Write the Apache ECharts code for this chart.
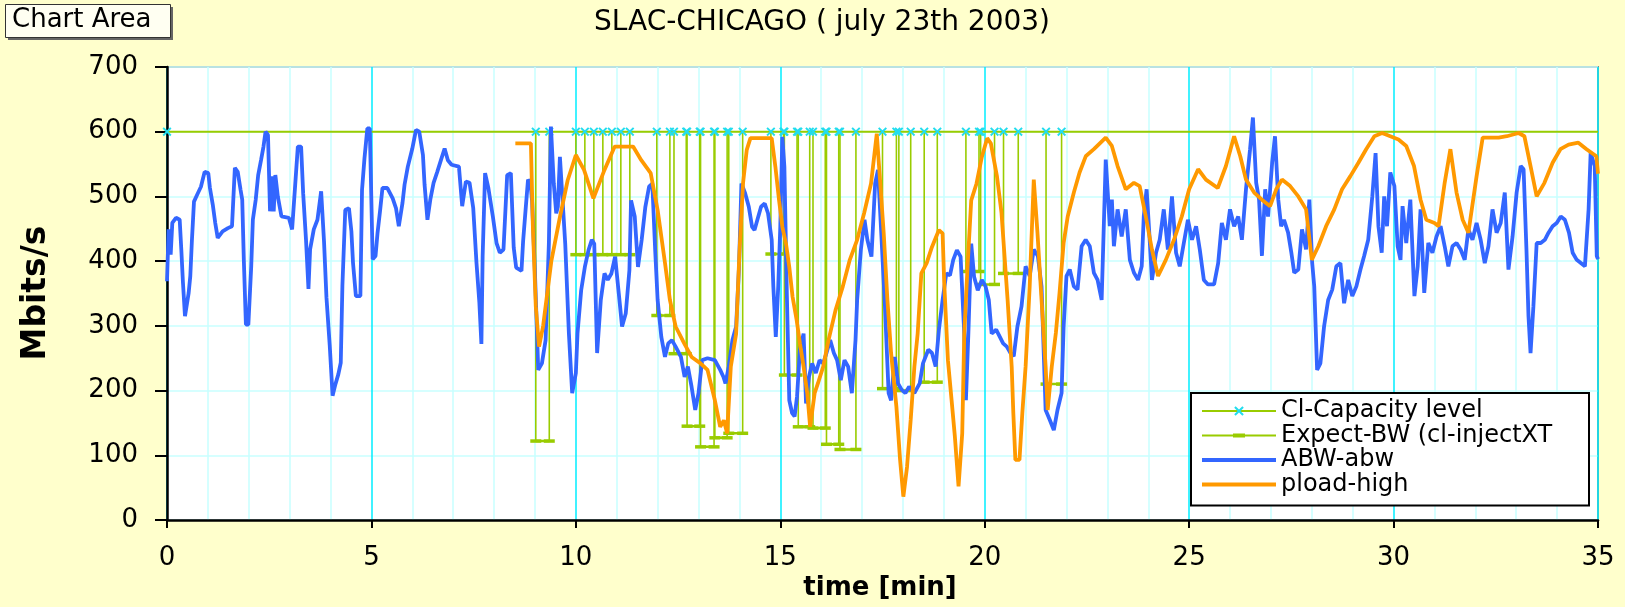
<!DOCTYPE html>
<html><head><meta charset="utf-8">
<script src="https://cdn.jsdelivr.net/npm/echarts@6/dist/echarts.min.js"></script>
<style>html,body{margin:0;padding:0;background:#FFFFCC;}#c{width:1625px;height:607px;}</style>
</head><body><div id="c"></div>
<script>
const chartTitle = 'SLAC-CHICAGO ( july 23th 2003)';
const xName = 'time [min]';
const yName = 'Mbits/s';
const seriesNames = ['Cl-Capacity level', 'Expect-BW (cl-injectXT', 'ABW-abw', 'pload-high'];
const xMin = 0, xMax = 35, xStep = 5;
const yMin = 0, yMax = 700, yStep = 100;
const capacityLevel = 600;

// ABW-abw samples [time(min), Mbits/s]
const abwSamples = [[0,369],[0.04,449],[0.09,410],[0.13,459],[0.22,467],[0.31,464],[0.35,418],[0.39,367],[0.44,315],[0.53,351],[0.57,377],[0.61,433],[0.66,492],[0.74,503],[0.83,515],[0.92,538],[1.01,536],[1.05,513],[1.12,487],[1.18,459],[1.24,436],[1.36,446],[1.49,451],[1.59,454],[1.66,544],[1.73,538],[1.80,510],[1.84,495],[1.88,400],[1.93,302],[1.99,302],[2.06,392],[2.10,464],[2.17,495],[2.23,533],[2.30,556],[2.36,577],[2.41,600],[2.47,595],[2.52,477],[2.57,531],[2.61,477],[2.65,533],[2.71,500],[2.80,469],[2.98,467],[3.06,449],[3.13,513],[3.20,577],[3.28,577],[3.33,505],[3.40,433],[3.46,357],[3.50,418],[3.59,449],[3.68,464],[3.77,508],[3.84,431],[3.90,344],[3.98,270],[4.05,192],[4.12,210],[4.19,225],[4.25,243],[4.29,362],[4.36,479],[4.45,482],[4.51,446],[4.55,397],[4.62,346],[4.73,346],[4.77,510],[4.83,559],[4.90,605],[4.96,605],[5.03,403],[5.10,408],[5.15,444],[5.21,477],[5.27,513],[5.39,513],[5.52,497],[5.60,482],[5.67,454],[5.76,490],[5.81,518],[5.89,546],[6.00,574],[6.09,603],[6.17,600],[6.26,564],[6.30,518],[6.37,464],[6.44,495],[6.52,521],[6.61,538],[6.70,556],[6.79,574],[6.87,556],[6.96,549],[7.14,546],[7.22,485],[7.31,523],[7.40,521],[7.49,482],[7.57,397],[7.64,336],[7.69,272],[7.72,408],[7.78,536],[7.86,513],[7.97,469],[8.06,428],[8.14,413],[8.23,418],[8.32,533],[8.41,536],[8.48,421],[8.54,390],[8.67,385],[8.71,431],[8.77,479],[8.83,526],[8.89,521],[8.93,492],[9.00,381],[9.08,232],[9.17,242],[9.26,278],[9.34,427],[9.39,608],[9.46,520],[9.52,474],[9.56,484],[9.61,561],[9.69,479],[9.74,427],[9.83,288],[9.91,196],[10.0,227],[10.04,288],[10.13,355],[10.22,391],[10.31,417],[10.39,433],[10.45,427],[10.52,258],[10.61,340],[10.7,381],[10.78,371],[10.87,381],[10.96,407],[11.05,350],[11.13,299],[11.22,319],[11.31,386],[11.35,494],[11.44,469],[11.52,391],[11.61,433],[11.7,484],[11.79,515],[11.87,520],[11.94,417],[12.0,340],[12.09,283],[12.18,252],[12.26,273],[12.35,278],[12.44,268],[12.57,252],[12.66,221],[12.74,237],[12.83,206],[12.92,170],[13.0,196],[13.09,247],[13.22,250],[13.4,247],[13.53,232],[13.61,221],[13.66,211],[13.74,237],[13.83,278],[13.92,299],[13.99,391],[14.05,520],[14.14,505],[14.23,484],[14.31,453],[14.37,448],[14.44,464],[14.53,484],[14.62,489],[14.7,474],[14.79,433],[14.83,361],[14.89,283],[14.95,361],[15.0,453],[15.05,592],[15.1,546],[15.16,350],[15.22,185],[15.29,165],[15.35,160],[15.41,191],[15.48,263],[15.57,288],[15.63,180],[15.7,221],[15.78,242],[15.87,227],[15.96,247],[16.05,242],[16.13,258],[16.22,278],[16.31,258],[16.39,247],[16.48,216],[16.57,247],[16.66,237],[16.75,196],[16.84,278],[16.88,340],[16.97,417],[17.06,464],[17.13,433],[17.23,407],[17.32,520],[17.39,541],[17.47,443],[17.56,330],[17.65,196],[17.71,185],[17.8,252],[17.88,211],[17.97,201],[18.06,196],[18.15,206],[18.28,196],[18.41,211],[18.49,242],[18.62,263],[18.71,258],[18.8,237],[18.88,294],[18.97,340],[19.06,381],[19.15,378],[19.23,402],[19.32,417],[19.41,407],[19.5,288],[19.54,185],[19.6,288],[19.67,427],[19.74,376],[19.83,355],[19.93,371],[20.02,361],[20.1,340],[20.17,288],[20.28,294],[20.37,283],[20.45,273],[20.54,268],[20.63,258],[20.71,253],[20.8,299],[20.9,330],[21.0,392],[21.1,377],[21.2,418],[21.3,408],[21.39,361],[21.49,170],[21.59,155],[21.69,139],[21.78,170],[21.88,196],[21.93,299],[22.0,377],[22.08,387],[22.18,361],[22.27,356],[22.37,423],[22.47,433],[22.57,423],[22.67,382],[22.76,371],[22.86,340],[22.96,557],[23.06,454],[23.11,495],[23.16,423],[23.25,480],[23.35,438],[23.45,480],[23.55,402],[23.65,382],[23.75,371],[23.84,392],[23.89,469],[23.96,511],[24.02,449],[24.09,371],[24.19,413],[24.28,433],[24.38,480],[24.48,418],[24.58,500],[24.68,413],[24.77,392],[24.87,428],[24.97,464],[25.07,433],[25.17,454],[25.26,418],[25.36,371],[25.46,364],[25.61,364],[25.71,397],[25.8,459],[25.9,433],[26.0,480],[26.1,454],[26.2,469],[26.29,433],[26.39,511],[26.49,573],[26.56,622],[26.64,521],[26.71,495],[26.78,408],[26.86,511],[26.93,469],[27.03,552],[27.1,593],[27.18,495],[27.25,454],[27.32,464],[27.42,444],[27.5,413],[27.57,382],[27.67,387],[27.76,449],[27.86,418],[27.94,495],[28.01,397],[28.06,361],[28.13,232],[28.21,242],[28.3,299],[28.4,340],[28.5,356],[28.6,392],[28.7,397],[28.79,335],[28.89,371],[28.99,346],[29.09,361],[29.19,387],[29.28,408],[29.38,433],[29.48,500],[29.56,567],[29.63,454],[29.71,413],[29.77,500],[29.84,454],[29.92,537],[30.02,516],[30.1,423],[30.17,402],[30.22,485],[30.31,428],[30.41,495],[30.51,346],[30.59,392],[30.66,480],[30.75,351],[30.85,428],[30.95,413],[31.05,438],[31.15,454],[31.25,423],[31.34,392],[31.44,423],[31.54,428],[31.64,418],[31.74,402],[31.83,449],[31.93,433],[32.03,459],[32.13,433],[32.23,397],[32.32,423],[32.42,480],[32.52,444],[32.62,459],[32.72,506],[32.81,387],[32.91,438],[33.01,506],[33.11,547],[33.18,542],[33.25,418],[33.3,315],[33.35,258],[33.42,330],[33.5,428],[33.6,428],[33.7,433],[33.79,444],[33.89,454],[33.99,459],[34.09,469],[34.19,464],[34.29,444],[34.38,413],[34.48,402],[34.58,397],[34.68,392],[34.77,480],[34.82,567],[34.92,547],[34.97,408],[35.0,403]];

// pload-high samples [time(min), Mbits/s]
const ploadSamples = [[8.52,582],[8.9,582],[8.95,450],[9.02,330],[9.1,268],[9.2,300],[9.4,400],[9.6,465],[9.8,525],[10.0,564],[10.2,541],[10.43,497],[10.7,541],[10.95,577],[11.4,577],[11.6,556],[11.83,536],[12.0,479],[12.18,397],[12.3,340],[12.44,299],[12.65,273],[12.83,252],[13.05,242],[13.22,232],[13.4,185],[13.53,144],[13.62,154],[13.7,134],[13.79,237],[13.92,288],[14.0,412],[14.09,521],[14.18,572],[14.27,590],[14.79,590],[14.88,546],[14.97,494],[15.05,453],[15.14,427],[15.22,391],[15.3,345],[15.4,309],[15.48,273],[15.57,237],[15.66,196],[15.73,144],[15.84,196],[15.92,211],[16.05,237],[16.18,278],[16.35,324],[16.53,361],[16.7,402],[16.88,433],[17.05,474],[17.22,520],[17.36,597],[17.44,525],[17.53,443],[17.62,340],[17.71,258],[17.84,175],[17.93,93],[18.01,36],[18.1,82],[18.19,155],[18.28,237],[18.36,288],[18.45,381],[18.58,397],[18.71,422],[18.88,448],[18.97,443],[19.01,366],[19.1,247],[19.19,185],[19.27,129],[19.36,52],[19.45,134],[19.5,288],[19.58,391],[19.67,494],[19.8,520],[19.93,561],[20.06,590],[20.15,582],[20.3,531],[20.41,475],[20.56,340],[20.66,237],[20.7,165],[20.75,93],[20.85,93],[20.92,165],[21.0,237],[21.1,361],[21.2,526],[21.29,444],[21.39,340],[21.49,237],[21.54,170],[21.64,237],[21.74,289],[21.83,351],[21.93,428],[22.03,469],[22.18,506],[22.32,537],[22.47,562],[22.67,573],[22.96,591],[23.11,578],[23.25,547],[23.45,511],[23.65,521],[23.79,516],[23.94,469],[24.09,418],[24.24,377],[24.43,402],[24.63,433],[24.82,469],[25.0,511],[25.22,542],[25.41,526],[25.7,513],[25.9,547],[26.1,593],[26.25,562],[26.39,526],[26.59,506],[26.78,495],[26.98,485],[27.13,511],[27.27,526],[27.47,516],[27.67,500],[27.86,480],[28.0,402],[28.16,423],[28.35,454],[28.55,480],[28.74,511],[28.94,531],[29.14,552],[29.33,573],[29.53,593],[29.72,598],[29.92,593],[30.12,588],[30.31,578],[30.5,547],[30.66,495],[30.8,464],[31.0,459],[31.1,454],[31.25,521],[31.39,573],[31.54,506],[31.69,464],[31.83,444],[32.03,531],[32.18,591],[32.57,591],[32.77,593],[33.06,598],[33.2,593],[33.35,547],[33.5,500],[33.69,521],[33.89,552],[34.08,573],[34.28,580],[34.52,583],[34.72,573],[34.96,562],[35.0,535]];

// Expect-BW probes: time (min) and value; null marks a break between probes
const bwTime  = [9.02,9.35,null,10.0,10.22,10.44,10.66,10.88,11.1,11.32,null,11.98,12.3,null,12.4,12.7,null,12.72,13.03,null,13.05,13.38,null,13.4,13.7,null,13.74,14.08,null,14.77,15.08,null,15.1,15.41,null,15.44,15.72,null,15.8,16.1,null,16.13,16.43,null,16.46,16.85,null,17.5,17.84,null,17.9,18.19,null,18.52,18.84,null,19.54,19.86,null,19.9,20.24,null,20.46,20.82,null,21.5,21.88];
const bwValue = [122,122,null,410,410,410,410,410,410,410,null,316,316,null,257,257,null,145,145,null,113,113,null,127,127,null,134,134,null,411,411,null,224,224,null,144,144,null,142,142,null,117,117,null,109,109,null,203,203,null,200,200,null,213,213,null,384,384,null,364,364,null,381,381,null,210,210];

const GREEN = '#99CC00', CYAN = '#22DDEE', BLUE = '#3366FF', ORANGE = '#FF9900';
const FONT = 'DejaVu Sans';
const XMARK = 'path://M0,1.5L1.5,0L5,3.5L8.5,0L10,1.5L6.5,5L10,8.5L8.5,10L5,6.5L1.5,10L0,8.5L3.5,5Z';
const LINE_ICON = 'path://M0,0h74v4h-74z';
const DASH_ICON = 'path://M0,3h74v2h-74zM31,2h12v4h-12z';

const bwData = bwTime.map((t, i) => t === null ? '-' : [t, bwValue[i]]);
const probePts = bwTime.map((t, i) => [t, bwValue[i]]).filter(p => p[0] !== null);
const capData = [[xMin, capacityLevel]].concat(probePts.map(p => [p[0], capacityLevel]))
  .concat([{ value: [xMax, capacityLevel], symbol: 'none' }]);

const chart = echarts.init(document.getElementById('c'), null, { renderer: 'canvas' });
chart.setOption({
  animation: false,
  backgroundColor: '#FFFFCC',
  textStyle: { fontFamily: FONT },
  grid: { left: 167, right: 27, top: 67, bottom: 87, show: true, backgroundColor: '#ffffff', borderColor: '#8a8a8a', borderWidth: 2 },
  xAxis: {
    type: 'value', min: xMin, max: xMax, interval: xStep,
    axisLine: { show: true, onZero: false, lineStyle: { color: '#000', width: 2.5 } },
    axisTick: { show: true, length: 8, lineStyle: { color: '#000', width: 2 } },
    axisLabel: { margin: 25, fontSize: 26, color: '#000', fontFamily: FONT },
    splitLine: { show: true, lineStyle: { color: '#00EEFF', width: 1.5 } },
    minorTick: { show: false, splitNumber: 5 },
    minorSplitLine: { show: true, lineStyle: { color: '#C8FFFF', width: 1.5 } }
  },
  yAxis: {
    type: 'value', min: yMin, max: yMax, interval: yStep,
    axisLine: { show: true, onZero: false, lineStyle: { color: '#000', width: 2.5 } },
    axisTick: { show: true, length: 12, lineStyle: { color: '#000', width: 2 } },
    axisLabel: { margin: 29, fontSize: 26, color: '#000', fontFamily: FONT },
    splitLine: { show: true, lineStyle: { color: '#C8FFFF', width: 1.5 } }
  },
  legend: {
    orient: 'vertical', left: 1191, top: 393,
    data: [
      { name: seriesNames[0] },
      { name: seriesNames[1], icon: DASH_ICON },
      { name: seriesNames[2], icon: LINE_ICON },
      { name: seriesNames[3], icon: LINE_ICON }
    ],
    backgroundColor: '#ffffff', borderColor: '#000', borderWidth: 2,
    padding: [6, 8, 9, 10], itemWidth: 74, itemHeight: 12, itemGap: 0.5,
    textStyle: { fontSize: 24, color: '#000', fontFamily: FONT, lineHeight: 24, width: 300 }
  },
  graphic: [
    { type: 'rect', left: 8, top: 7, shape: { width: 165, height: 33 }, style: { fill: '#666' }, z: 10 },
    { type: 'rect', left: 5, top: 4, shape: { width: 165, height: 33 }, style: { fill: '#FFFFF2', stroke: '#333', lineWidth: 1 }, z: 11 },
    { type: 'text', left: 12, top: 7, style: { text: 'Chart Area', fontSize: 26, fontFamily: FONT, fill: '#000' }, z: 12 },
    { type: 'text', x: 822, y: 23, style: { text: chartTitle, fontSize: 28, fontFamily: FONT, fill: '#000', align: 'center', verticalAlign: 'middle' } },
    { type: 'text', x: 880, y: 588, style: { text: xName, fontSize: 26, fontWeight: 'bold', fontFamily: FONT, fill: '#000', align: 'center', verticalAlign: 'middle' } },
    { type: 'text', x: 36, y: 293, rotation: Math.PI / 2, style: { text: yName, fontSize: 33, fontWeight: 'bold', fontFamily: FONT, fill: '#000', align: 'center', verticalAlign: 'middle' } }
  ],
  series: [
    {
      type: 'custom', name: 'probe-lines', silent: true, z: 2,
      data: probePts,
      renderItem: function (params, api) {
        const top = api.coord([api.value(0), capacityLevel]);
        const bot = api.coord([api.value(0), api.value(1)]);
        return { type: 'line', shape: { x1: top[0], y1: top[1], x2: bot[0], y2: bot[1] }, style: { stroke: GREEN, lineWidth: 1.6 } };
      }
    },
    {
      type: 'line', name: seriesNames[1], data: bwData, z: 3,
      symbol: 'rect', symbolSize: [11, 3.5], showAllSymbol: true,
      lineStyle: { color: GREEN, width: 2.5 }, itemStyle: { color: GREEN }
    },
    {
      type: 'line', name: seriesNames[0], data: capData, z: 4,
      symbol: XMARK, symbolSize: 9, showAllSymbol: true,
      lineStyle: { color: GREEN, width: 2 }, itemStyle: { color: CYAN }
    },
    {
      type: 'line', name: seriesNames[2], data: abwSamples, z: 5,
      showSymbol: false, symbol: 'none',
      lineStyle: { color: BLUE, width: 3.8 }, itemStyle: { color: BLUE }
    },
    {
      type: 'line', name: seriesNames[3], data: ploadSamples, z: 6,
      showSymbol: false, symbol: 'none',
      lineStyle: { color: ORANGE, width: 3.8 }, itemStyle: { color: ORANGE }
    }
  ]
});
</script></body></html>
